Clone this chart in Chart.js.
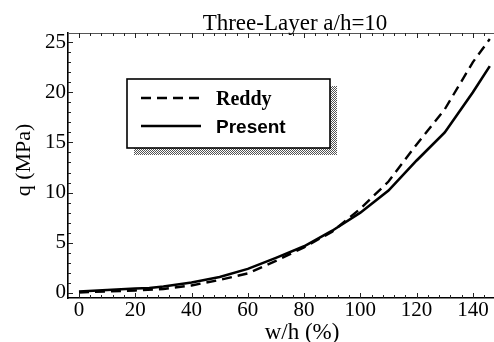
<!DOCTYPE html>
<html>
<head>
<meta charset="utf-8">
<script src="https://cdn.jsdelivr.net/npm/chart.js@4/dist/chart.umd.min.js"></script>
<style>
  html, body { margin: 0; padding: 0; background: #fff; }
  #wrap { width: 494px; height: 342px; position: relative; }
</style>
</head>
<body>
<div id="wrap"><canvas id="c"></canvas></div>
<script>
// w/h (%) vs q (MPa), three-layer plate a/h=10
const X_REDDY = [0, 10, 20, 30, 40, 50, 60, 70, 80, 90, 100, 110, 120, 130, 140, 146];
const Q_REDDY = [0.05, 0.15, 0.25, 0.4, 0.75, 1.3, 1.95, 3.2, 4.55, 6.1, 8.4, 11.1, 14.8, 18.3, 23.0, 25.3];
const X_PRESENT = [0, 10, 20, 25, 30, 40, 50, 60, 70, 80, 90, 100, 110, 120, 130, 140, 146];
const Q_PRESENT = [0.15, 0.3, 0.45, 0.5, 0.65, 1.05, 1.6, 2.4, 3.5, 4.65, 6.2, 8.0, 10.2, 13.2, 16.0, 20.0, 22.6];
const X_TICKS = [0, 20, 40, 60, 80, 100, 120, 140];
const Y_TICKS = [0, 5, 10, 15, 20, 25];

const TITLE = 'Three-Layer a/h=10';
const X_TITLE = 'w/h (%)';
const Y_TITLE = 'q (MPa)';

const serif = '"Liberation Serif", "Times New Roman", serif';

function pts(xs, ys) { return xs.map((x, i) => ({ x, y: ys[i] })); }

// titles placed like the original figure (it is cropped on the right)
const titles = {
  id: 'titles',
  afterDraw(chart) {
    const ctx = chart.ctx;
    ctx.save();
    ctx.fillStyle = '#000';
    ctx.textAlign = 'center';
    ctx.textBaseline = 'alphabetic';
    ctx.font = '23px ' + serif;
    ctx.fillText(TITLE, 295, 30);
    ctx.fillText(X_TITLE, 302, 339);
    ctx.translate(30, 160);
    ctx.rotate(-Math.PI / 2);
    ctx.font = '22px ' + serif;
    ctx.fillText(Y_TITLE, 0, 0);
    ctx.restore();
  }
};

// small inward ticks on the frame + the top border
const frameTicks = {
  id: 'frameTicks',
  afterDraw(chart) {
    const { ctx, chartArea: a, scales: { x, y } } = chart;
    ctx.save();
    ctx.strokeStyle = '#555';
    ctx.lineWidth = 1;
    ctx.beginPath();
    ctx.moveTo(a.left, a.top + 0.5);
    ctx.lineTo(a.right, a.top + 0.5);
    ctx.stroke();
    ctx.strokeStyle = '#222';
    ctx.beginPath();
    for (let v = 0; v <= 148; v += 4) {
      const px = Math.round(x.getPixelForValue(v)) + 0.5;
      const len = v % 20 === 0 ? 5 : 3;
      ctx.moveTo(px, a.bottom); ctx.lineTo(px, a.bottom - len);
      ctx.moveTo(px, a.top); ctx.lineTo(px, a.top + len);
    }
    for (let v = 0; v <= 25; v += 1) {
      const py = Math.round(y.getPixelForValue(v)) + 0.5;
      const len = v % 5 === 0 ? 5 : 3;
      ctx.moveTo(a.left, py); ctx.lineTo(a.left + len, py);
    }
    ctx.stroke();
    ctx.restore();
  }
};

// boxed legend with a stippled drop shadow
const boxLegend = {
  id: 'boxLegend',
  afterDraw(chart) {
    const ctx = chart.ctx;
    const bx = 127, by = 79, bw = 203, bh = 69;
    ctx.save();
    const pc = document.createElement('canvas');
    pc.width = 2; pc.height = 2;
    const pctx = pc.getContext('2d');
    pctx.fillStyle = '#fff'; pctx.fillRect(0, 0, 2, 2);
    pctx.fillStyle = '#555'; pctx.fillRect(0, 0, 1, 1); pctx.fillRect(1, 1, 1, 1);
    ctx.fillStyle = ctx.createPattern(pc, 'repeat');
    ctx.fillRect(bx + bw, by + 7, 7, bh);
    ctx.fillRect(bx + 7, by + bh, bw, 7);
    ctx.fillStyle = '#fff';
    ctx.fillRect(bx, by, bw, bh);
    ctx.strokeStyle = '#000';
    ctx.lineWidth = 1.6;
    ctx.strokeRect(bx, by, bw, bh);

    const fonts = ['bold 20px ' + serif, 'bold 19px "Liberation Sans", Arial, sans-serif'];
    const rows = [98, 126];
    chart.data.datasets.forEach((ds, i) => {
      ctx.strokeStyle = ds.borderColor;
      ctx.lineWidth = ds.borderWidth;
      ctx.setLineDash(ds.borderDash || []);
      ctx.beginPath();
      ctx.moveTo(141, rows[i]); ctx.lineTo(201, rows[i]);
      ctx.stroke();
      ctx.setLineDash([]);
      ctx.fillStyle = '#000';
      ctx.font = fonts[i];
      ctx.textBaseline = 'middle';
      ctx.fillText(ds.label, 216, rows[i] + 2);
    });
    ctx.restore();
  }
};

new Chart(document.getElementById('c'), {
  type: 'line',
  data: {
    datasets: [
      {
        label: 'Reddy', data: pts(X_REDDY, Q_REDDY),
        borderColor: '#000', borderWidth: 2.4, borderDash: [10, 6],
        pointRadius: 0, tension: 0, fill: false
      },
      {
        label: 'Present', data: pts(X_PRESENT, Q_PRESENT),
        borderColor: '#000', borderWidth: 2.6,
        pointRadius: 0, tension: 0, fill: false
      }
    ]
  },
  options: {
    responsive: true,
    maintainAspectRatio: false,
    animation: false,
    layout: { padding: { top: 33, left: 0, bottom: 0, right: 0 } },
    plugins: {
      legend: { display: false },
      tooltip: { enabled: false },
      title: { display: false }
    },
    scales: {
      x: {
        type: 'linear',
        min: -3.9, max: 147.5,
        afterBuildTicks: s => { s.ticks = X_TICKS.map(v => ({ value: v })); },
        afterFit: s => { s.height = 44; },
        grid: { display: false, drawTicks: false },
        border: { display: true, color: '#000', width: 1.6 },
        ticks: {
          color: '#000', padding: 2, maxRotation: 0, autoSkip: false,
          font: { family: serif, size: 21, lineHeight: 1 }
        }
      },
      y: {
        min: -0.5, max: 25.9,
        afterBuildTicks: s => { s.ticks = Y_TICKS.map(v => ({ value: v })); },
        afterFit: s => { s.width = 68; },
        grid: { display: false, drawTicks: false },
        border: { display: true, color: '#000', width: 1.6 },
        ticks: {
          color: '#000', padding: 2,
          font: { family: serif, size: 21, lineHeight: 1 }
        }
      }
    }
  },
  plugins: [frameTicks, boxLegend, titles]
});
</script>
</body>
</html>
